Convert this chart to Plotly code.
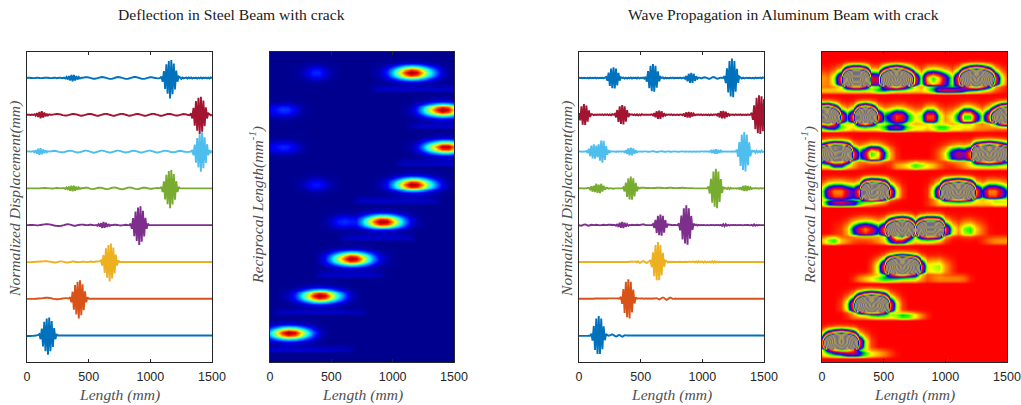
import numpy as np
import plotly.graph_objects as go

W, H = 1021, 405
colors = ["#0072BD", "#A2142F", "#4DBEEE", "#77AC30", "#7E2F8E", "#EDB120", "#D95319", "#0072BD"]
x_ticks = [0, 500, 1000, 1500]

# ---- Deflection waveforms: (start mm, samples every 10 mm), top trace first ----
d1 = [(0, [0,1,1,0,0,-1,-1,0,1,1,0,-1,-1,0,1,1,2,1,0,-1,-1,0,1,1,-1,0,1,1,0,-1]),
      (300, [2,-3,5,-8,11,-14,17,-18,16,-14,11,-8,5,-3,1]),
      (450, [1,2,4,4,4,3,1,-1,-3,-4,-4,-3,-1,1,3,4,5,4,3,1,-1,-3,-5,-5,-4,-2,0,3,4,5,4,3,1,-1,-3,-5,-5,-4,-2,0,2,4,5,5,4,2,0,-2,-4,-5,-5,-3,-1,1,3,4,4,3,1,0,-1,-2,-2]),
      (1090, [8,-20,38,-60,74,-86,92,-112,98,-88,78,-62,40,-20,8]),
      (1240, [4,-5,3,-2,1,2,-3,3,-2,3,-3,1,-1,2,-3,2,-2,3,-3,2,-1,2,-2,2,-3,3,-1,2,-2,0])]
d2 = [(0, [0,1,0,-1,1,-1]),
      (60, [3,-5,9,-12,15,-19,19,-15,12,-9,6,-4,2]),
      (200, [0,1,2,3,4,4,3,2,0,-2,-3,-4,-4,-3,-1,1,3,4,4,3,2,0,-2,-4,-5,-4,-3,-1,1,3,4,5,4,2,0,-2,-4,-5,-5,-3,-1,1,3,5,5,4,2,0,-2,-4,-5,-5,-3,-1,1,3,5,5,4,2,0,-2,-4,-5,-4,-3,-1,1,3,5,4,3,1,-1,-3,-5,-5,-4,-2,0,2,4,5,5,3,1,-1,-3,-5,-5,-4,-2,0,2,4,5,4,3,1,-1,-3,-4,-4,-3,-1,1,3,4,3,2,0,-1,-2,-3,-2,-1,0,1,2,2,1,0,-1,-2,-2,-1,0,2,3,2,0]),
      (1338, [8,-20,38,-60,74,-86,92,-104,98,-92,78,-62,40,-20,8]),
      (1488, [3,-3])]
d3 = [(0, [0,1,1,-1,1,-1]),
      (50, [2,-4,8,-12,16,-18,18,-15,12,-9,6,-4,2]),
      (190, [1,2,3,4,3,2,0,-2,-3,-4,-4,-3,-1,1,3,4,5,4,2,0,-2,-4,-5,-4,-3,-1,1,3,5,5,4,2,0,-2,-4,-6,-5,-3,-1,1,3,5,5,4,2,0,-2,-4,-5,-5,-3,-1,1,3,5,5,4,2,0,-2,-4,-5,-4,-3,-1,1,3,5,4,3,1,-1,-3,-5,-5,-4,-2,0,2,4,5,5,3,1,-1,-3,-5,-5,-4,-2,0,2,4,5,4,3,1,-1,-3,-4,-4,-3,-1,1,3,4,3,2,0,-1,-2,-3,-2,-1,0,1,2,2,1,0,-1,-2,-3,-1,1,3,-2,3,-3,4,-4,3,-4,4,-3]),
      (1346, [8,-20,38,-60,74,-86,94,-110,105,-90,78,-62,40,-20,8])]
d4 = [(0, [0,0,0,0,0,0,0,0,0,0,0,1,1,1,2,2,1,1,0,0,-1,-1,0,1,2,2,1,0,1,1]),
      (300, [2,-3,5,-8,10,-13,15,-16,15,-13,10,-8,5,-3,2]),
      (450, [1,2,3,4,3,1,-1,-3,-4,-3,-2,0,2,3,4,3,2,0,-2,-4,-4,-3,-1,1,3,4,5,4,2,0,-2,-4,-5,-4,-2,0,2,4,5,4,3,1,-1,-3,-4,-4,-2,0,2,3,4,3,2,0,-1,-2,-2,-1,0,1,1,2,1,1,0]),
      (1098, [8,-20,38,-60,74,-86,94,-108,100,-88,78,-62,40,-20,8])]
d5 = [(0, [0,0,1,1,1,1,0,0,-1,-1,0,1,2,3,4,5,5,5,4,3,2,0,-2,-3,-4,-5,-5,-4,-3,-1,0,2,4,5,4,3,1,-1,-3,-3,-2,0,1,2,3,3,2,1,0,0,1,2,2,1,0,-1]),
      (560, [1,-3,5,-8,11,-16,18,-15,13,-10,6,-4,1]),
      (700, [1,2,2,1,0,-1,-2,-1,0,1,2,1,0,-1,-1,0,1,2,1,0,-2,-1]),
      (846, [8,-20,38,-60,74,-86,96,-108,102,-90,78,-62,40,-20,8])]
d6 = [(0, [-1,-1,-1,-1,0,0,0,1,1,1,2,2,2,3,4,4,4,3,2,1,0,-2,-3,-3,-2,0,2,3,3,2,0,-2,-3,-3,-2,-1,1,2,2,1,0,0,-1,-1,0,1,1,0,-1,-1,0,1,2,1,0,1,2,2,3,3]),
      (603, [8,-20,38,-60,74,-86,92,-106,100,-90,78,-62,40,-20,8])]
d7 = [(0, [-1,-1,-1,-1,-1,-1,-1,0,0,1,1,2,2,3,4,5,5,5,4,3,2,0,-1,-2,-3,-3,-2,-1,0,1,2,3,3,2,1,2,1]),
      (352, [8,-20,38,-60,74,-86,92,-108,100,-90,78,-62,40,-20,8])]
d8 = [(0, [-3,-3,-3,-3,-2,-2,-1,0,1,3,2]),
      (108, [8,-20,38,-60,74,-86,92,-104,98,-86,78,-62,40,-20,8])]
deflection_waves = [d1, d2, d3, d4, d5, d6, d7, d8]

# ---- Wave-propagation waveforms ----
w1 = [(0, [1,0,1,-1,1,0,-1,1,-2,2,-1,1,-1,2,-2,1,-1,1,0,1,-1,2,-2,1]),
      (224, [6,-15,29,-43,51,-55,58,-57,51,-41,28,-14,4]),
      (360, [2,-3,2,-3,2,-2,3,-3,2,-1,2,-3,3,-2,1,0,2,-3,2,-1]),
      (548, [7,-20,37,-56,66,-72,76,-75,66,-53,36,-19,6]),
      (680, [3,-3,2,-2,1,-2,2,-1,2,-2,1,0,1,-1,2,-2,1,-1,2,-3,3,-2]),
      (851, [2,-5,11,-18,23,-27,28,-27,23,-16,10,-5,2]),
      (980, [2,-2,0,3,4,2,-1,-4,-4,-1,3,5,3,-1,-4,-3,0,2,1,0]),
      (1180, [10,-28,52,-78,92,-100,106,-104,92,-74,50,-26,8]),
      (1310, [3,-3,2,-2,1,2,-1,1,0,-1,1,-2,2,-1,1,0,2,-2,3])]
w2 = [(0, [9,-30,46,-54,58,-55,50,-37,24,-12,4]),
      (110, [2,-2,1,-1,1,0,1,-1,2,-2,2,-1,2,-2,2,-3,3]),
      (297, [5,-14,26,-39,46,-50,53,-52,46,-37,25,-13,4]),
      (430, [3,-2,2,-3,3,-4,2,-3,3]),
      (594, [2,-4,9,-14,19,-22,23,-22,19,-13,8,-4,1]),
      (730, [2,-1,2,-2,1,-1,0,1,-2,2,-1,1,-2,2,-1,2,-2,3]),
      (837, [1,-3,6,-10,13,-15,16,-15,13,-9,6,-3,1]),
      (970, [1,-1,2,-2,1,-1,1,-2,2,-3,2,-2,1,0,-1,1,-2,1,0,-2]),
      (1113, [2,-4,8,-14,19,-20,21,-20,17,-12,8,-4,1]),
      (1250, [1,-2,2,-1,1,-1,2,-2,1,-1,1,-2,2,-1,1,-1]),
      (1400, [10,-28,52,-78,92,-100,106,-104,100,-90,85])]
w3 = [(0, [0,1,0,-1,1,0,1,-1]),
      (60, [3,-8,15,-25,32,-37,40,-38,32,-30,40,-50,60,-61,58,-45,30,-18,8,-4,2]),
      (290, [1,-2,1,-1,2,-1,1,0,1,-1,1,-2,2]),
      (360, [1,-4,8,-13,17,-20,21,-20,17,-12,8,-4,1]),
      (500, [1,-1,0,1,1,0,-1,-1,0,1,2,1,-1,-2,-1,0,1,2,1,-1,-1,0,1,1,-1,-1,0,1,1,0,-1,-1,0,1,1,0,-1,1,0,-1,1,0,-1,1,0,-1,1,0,-1,1,1,0]),
      (1054, [1,-2,5,-8,10,-12,13,-12,10,-7,5,-2,1]),
      (1190, [1,-1,1,0,-1,1,-1,1,0,-1,1,-1,1,-1,1,0,-2]),
      (1289, [10,-28,52,-78,92,-100,106,-108,92,-74,50,-26,8]),
      (1420, [4,-6,5,-4,3,-4,5,-3])]
w4 = [(0, [0,1,0,1,-1,1,-1,2]),
      (80, [2,-6,11,-18,14,-20,25,-24,20,-26,25,-18,14,-8,3]),
      (230, [2,-2,1,0,-1,-2]),
      (364, [6,-17,31,-47,55,-60,64,-62,55,-44,30,-16,5]),
      (500, [3,3,3,3,2,2,2,2,1,1,2,2,2,3,3,3,3,2,2,1,1,2,2,3,3,3,2,2,1,1,2,2,2,3,3,2,2,1,1,1,1,1,1,0,0,0,0]),
      (1054, [10,-28,52,-78,92,-100,106,-108,92,-74,50,-26,8]),
      (1190, [2,-3,4,-4,3,-2,1,-1,1,-2,1]),
      (1297, [1,-3,6,-10,13,-15,16,-15,13,-9,6,-3,1]),
      (1430, [2,-1,1,-2,2,-1,1])]
w5 = [(0, [0,-2,-3,0,3,4,2,-2,-3,0,2,1,0,1,2,1,0,-1,0,1,2,1,0,1,2,2,1,2,1]),
      (291, [1,-3,6,-10,13,-15,17,-16,13,-9,6,-3,1]),
      (430, [2,1,0,1,2,1,0,2,3,5,3,1]),
      (602, [6,-15,29,-43,51,-55,58,-57,51,-41,28,-14,4]),
      (730, [2,2,1,0,1,1,0,-1,-1,0,1,1]),
      (816, [10,-28,52,-78,92,-100,108,-106,92,-74,50,-26,8]),
      (950, [3,-2,2,-1,1,0,1,0,-1,1,-1,0,1,0,1,-1,1,0,1,-1,2,-4,5,-6,5,-3,2,-2,1,0,1,0,1,-1,1,0,1,0,-1,1,0,1,1,0,-1,2,-3,4,-3,2,-2,1])]
w6 = [(400, [0,1,1,2,1,2,3,-2,3,-4,-3,1,5,2,-3,-5,0,4,2,-3,-1,2]),
      (581, [10,-28,52,-78,92,-100,108,-100,92,-74,50,-26,8]),
      (710, [4,-3,2,-1,1,0,1,0,0,0,1,0,1,0,0,1,0,0,1,1,0,1,2,-2,3,-3,4,-2,1,2,-3,3,-2,1,-1,2,-3,4,-4,3,-2,1,0,1,-1])]
w7 = [(0, [0,0,0,0,0,0,0,0,0,0,0,0,0,1,1,1,1,1,1,1,1,1,1,1,2,2,2,2,2,2,2,2,1,1]),
      (343, [10,-28,52,-78,92,-100,106,-108,92,-74,50,-26,8]),
      (480, [2,2,1,1,1,0,1,1,0,1,1,0,1,1,2,3,0,-4,-1,4,7,4,-1,-6,-2,3,6,3,-1,-1,1,0])]
w8 = [(0, [-2,-2,-2,-2,-2,-2,-2,-2,-1,-1]),
      (102, [10,-28,52,-78,92,-100,106,-100,92,-74,50,-26,8]),
      (235, [2,-1,1,3,6,3,-2,-5,-3,2,3,-3,-6,-3,2,1,0])]
wave_waves = [w1, w2, w3, w4, w5, w6, w7, w8]

# ---- Steel scalogram: magnitude along length per trace, columns every 50 mm ----
length_cols = [0,50,100,150,200,250,300,350,400,450,500,550,600,650,700,750,800,850,900,950,1000,1050,1100,1150,1200,1250,1300,1350,1400,1450,1500]
s1 = [0,0,0,0,.01,.03,.08,.15,.15,.08,.03,.01,0,0,0,0,0,.02,.05,.15,.34,.58,.85,1,.92,.67,.42,.21,.07,.02,0]
s2 = [.1,.13,.17,.16,.09,.03,.01,0,0,0,0,0,0,0,0,0,0,0,0,0,0,0,.02,.05,.15,.34,.58,.85,1,.92,.67]
s3 = [.09,.12,.15,.14,.08,.03,.01,0,0,0,0,0,0,0,0,0,0,0,0,0,0,0,.01,.03,.1,.26,.48,.74,.96,.97,.78]
s4 = [0,0,0,0,.01,.03,.07,.13,.13,.07,.03,.01,0,0,0,0,0,.01,.04,.12,.3,.53,.8,.99,.95,.72,.46,.24,.09,.03,.01]
s5 = [0,0,0,0,0,0,0,0,0,.02,.06,.13,.16,.14,.14,.3,.53,.8,.99,.95,.72,.46,.24,.09,.03,.01,0,0,0,0,0]
s6 = [0,0,0,0,0,0,0,0,.04,.12,.3,.53,.8,.99,.94,.7,.45,.23,.09,.03,.01,0,0,0,0,0,0,0,0,0,0]
s7 = [0,0,.02,.05,.15,.34,.58,.85,1,.92,.67,.42,.21,.07,.02,0,0,0,0,0,0,0,0,0,0,0,0,0,0,0,0]
s8 = [.34,.58,.85,1,.92,.67,.42,.21,.07,.02,0,0,0,0,0,0,0,0,0,0,0,0,0,0,0,0,0,0,0,0,0]
steel_main = [s1, s2, s3, s4, s5, s6, s7, s8]
# across-band falloff (13 rows per band) and faint streak under each band
steel_across = [0, .01, .03, .12, .42, .82, 1, .84, .42, .12, .03, .01, 0]
t1 = [0,0,0,0,0,0,0,0,0,0,0,0,0,0,0,0,0,.04,.06,.06,.06,.06,.06,.06,.06,.06,.06,.06,.06,.06,.06]
t2 = [0,0,0,0,0,0,0,0,0,0,0,0,0,0,0,0,0,0,0,0,0,0,0,.04,.06,.06,.06,.06,.06,.06,.06]
t3 = [0,0,0,0,0,0,0,0,0,0,0,0,0,0,0,0,0,0,0,0,0,.04,.06,.06,.06,.06,.06,.06,.06,.06,.06]
t4 = [0,0,0,0,0,0,0,0,0,0,0,0,0,0,.04,.06,.06,.06,.06,.06,.06,.06,.06,.06,.06,.06,.05,.04,0,0,0]
t5 = [0,0,0,0,0,0,0,0,0,0,0,0,.04,.06,.06,.06,.06,.06,.06,.06,.06,.06,.05,.04,0,0,0,0,0,0,0]
t6 = [0,0,0,0,0,0,0,0,.04,.06,.06,.06,.06,.06,.06,.06,.06,.05,.04,0,0,0,0,0,0,0,0,0,0,0,0]
t7 = [0,.04,.06,.06,.06,.06,.06,.06,.06,.06,.06,.06,.06,.05,.05,.04,0,0,0,0,0,0,0,0,0,0,0,0,0,0,0]
t8 = [.06,.07,.07,.07,.07,.07,.07,.07,.07,.06,.06,.05,.05,.04,0,0,0,0,0,0,0,0,0,0,0,0,0,0,0,0,0]
steel_streak = [t1, t2, t3, t4, t5, t6, t7, t8]
steel_streak_across = [0, 0, 0, 0, 0, 0, 0, 0, 0, 0, .2, .6, 1]

# ---- Aluminium scalogram, high magnitude (levels), columns every 50 mm ----
m1 = [1.2,1,2.5,7,28,38,38,28,6,5.5,20,34,42,34,20,6.5,2.5,7.5,9,7.5,5,2.5,7,22,36,42,36,22,7,2.5,.6]
m2 = [38,42,28,7,3.5,7,30,40,30,7,3.5,4.5,6.5,6,3.5,2,2.5,6.5,6.5,2.5,1.2,2,4,9,9,5,2.5,7,18,36,42]
m3 = [20,32,40,38,28,7,3.5,5.5,9,8,4,1.5,.3,0,0,0,0,0,.2,.8,2,4.5,5.5,5,7,28,36,42,36,28,18]
m4 = [2.5,5.5,7,7,5.5,4.5,7,30,40,36,26,7,2.5,.5,0,0,0,.3,2.5,7,26,36,42,36,26,7,4,7,7,5.5,3.5]
m5 = [0,0,.2,.5,1.5,4,6,7,6,4,7,22,34,40,32,9,28,38,38,32,7,2.5,1.2,2.6,3,1.6,.8,.1,0,0,0]
m6 = [0,0,0,0,0,0,0,0,.5,2.5,7,24,36,42,36,26,7,2,2.2,2.4,1.2,.4,0,0,0,0,0,0,0,0,0]
m7 = [0,0,0,.5,2.5,7,24,36,42,36,26,7,2.5,.5,0,0,0,0,0,0,0,0,0,0,0,0,0,0,0,0,0]
m8 = [7,24,36,42,36,26,7,2.5,.5,0,0,0,0,0,0,0,0,0,0,0,0,0,0,0,0,0,0,0,0,0,0]
alu_main = [m1, m2, m3, m4, m5, m6, m7, m8]
alu_across = [0, .005, .03, .11, .24, .48, .78, 1, .98, .88, .18, .05, .01]
l1 = [1.5,1.5,1.5,1.5,1.5,1.5,1.5,1.5,2,3,3,2,1.5,1.5,1.5,1.5,1.5,2,3,5,5.5,5.5,5,3.5,2.5,2,1.5,1,.5,.3,.1]
l2 = [2,3,3.5,2.5,2,1.5,1.5,1.5,1.5,2,3,4.5,5,4,2.5,2,2,1.5,2,3,3,2,2,1.5,1.5,1,1,.8,.5,.3,.2]
l3 = [1.5,1.5,3,3,1.5,1,.5,.2,0,0,0,.3,1.2,1.5,2,3,2.5,2,1.5,.8,.3,.2,.5,1,1.5,1.5,1.5,1.5,1.5,1.5,1.5]
l4 = [2,4,5,5.5,5,4.5,3,1.5,1,.5,.3,0,0,0,0,0,0,.3,.8,1.5,1.5,1.5,1.5,1.5,1.5,1.5,1.5,1.5,2,2,2]
l5 = [1.5,2.5,3,1.5,1,.5,.3,.3,.5,1,1.5,3.5,5,4.5,2.5,1.5,1.5,1.5,1.2,.8,.3,0,0,0,0,0,.3,.8,1.1,1.2,1.2]
l6 = [0,0,0,0,0,.3,1,1.5,2,2.5,3,2.5,2,1.5,1.5,1.5,1,.5,.8,1,1,1,1,.8,.2,0,0,0,0,0,0]
l7 = [0,0,0,0,.3,.8,1,1,1.5,2,2,2,2.5,3.2,3,2,1,.3,0,0,0,0,0,0,0,0,0,0,0,0,0]
l8 = [1.5,2,2.5,3,4,4.5,4,3,2,1.5,1,.5,.1,0,0,0,0,0,0,0,0,0,0,0,0,0,0,0,0,0,0]
alu_low = [l1, l2, l3, l4, l5, l6, l7, l8]
alu_low_across = [0, 0, 0, 0, 0, 0, 0, 0, 0, .05, .5, 1, .9]

jet = [[0, "rgb(0,0,143)"], [.11, "rgb(0,0,255)"], [.365, "rgb(0,255,255)"],
       [.625, "rgb(255,255,0)"], [.875, "rgb(255,0,0)"], [1, "rgb(128,0,0)"]]
rainbow_levels = ["#ff0000", "#ff8000", "#ffff00", "#00ff00", "#0000ff", "#7a00b0",
                  "#ff0000", "#ff8000", "#ffff00", "#00ff00", "#0000ff", "#7a00b0"]
ring_levels = ["#b5a050", "#6a6a90"]


def wave_samples(segments):
    y = np.zeros(151)
    for start, vals in segments:
        i = start // 10
        y[i:i + len(vals)] = vals[:151 - i]
    return y


def stack(main, across, low, low_across, before, after):
    rows = [np.zeros(31)] * before
    for a, b in zip(main, low):
        for g, g2 in zip(across, low_across):
            rows.append(np.array(a) * g + np.array(b) * g2)
    rows += [np.zeros(31)] * after
    return np.array(rows)


fig = go.Figure()
frames = [(27, 212), (270, 454), (579, 764), (822, 1007)]
top, bot = 51.5, 362
names = ["", "2", "3", "4"]
xs = np.arange(151) * 10
for col, waves in ((0, deflection_waves), (2, wave_waves)):
    for i, segs in enumerate(waves):
        fig.add_trace(go.Scatter(x=xs, y=(7 - i) + wave_samples(segs) / 200, mode="lines",
                                 line=dict(color=colors[i], width=1.9, simplify=False),
                                 xaxis="x" + names[col], yaxis="y" + names[col],
                                 showlegend=False, hoverinfo="skip"))

z_steel = stack(steel_main, steel_across, steel_streak, steel_streak_across, 2, 4)
fig.add_trace(go.Heatmap(z=z_steel, x=length_cols, y=np.arange(z_steel.shape[0]), zmin=0, zmax=1,
                         colorscale=jet, showscale=False, zsmooth="best",
                         xaxis="x2", yaxis="y2", hoverinfo="skip"))

z_alu = stack(alu_main, alu_across, alu_low, alu_low_across, 2, 2)
zmax = 44.0
scale = []
for k, c in enumerate(rainbow_levels):
    scale.append([k / zmax, c])
n = len(rainbow_levels)
k = n
while k <= zmax:
    scale.append([k / zmax, ring_levels[((k - n) // 2) % 2]])
    k += 2
scale[-1][0] = 1
fig.add_trace(go.Heatmap(z=z_alu, x=length_cols, y=np.arange(z_alu.shape[0]), zmin=0, zmax=zmax,
                         colorscale=scale, showscale=False, zsmooth="best",
                         xaxis="x4", yaxis="y4", hoverinfo="skip"))

line_col = "#262626"
yranges = [[-0.72, 7.72], [109.15, 0.65], [-0.72, 7.72], [107.27, 0.03]]
layout = dict(width=W, height=H, margin=dict(l=0, r=0, t=0, b=0, autoexpand=False), paper_bgcolor="white",
              plot_bgcolor="white", showlegend=False)
for (x0, x1), nm, yr in zip(frames, names, yranges):
    layout["xaxis" + nm] = dict(domain=[x0 / W, x1 / W], range=[0, 1500], anchor="y" + nm,
                                tickvals=x_ticks, ticks="inside", ticklen=3, tickwidth=1,
                                tickcolor=line_col, mirror="ticks", showline=True, linecolor=line_col,
                                linewidth=1, showgrid=False, zeroline=False, layer="above traces",
                                automargin=False, ticklabelstandoff=3,
                                tickfont=dict(family="Liberation Sans", size=12.5, color=line_col))
    layout["yaxis" + nm] = dict(domain=[(H - bot) / H, (H - top) / H], range=yr, anchor="x" + nm,
                                showticklabels=False, ticks="", tickvals=[], mirror=True, showline=True,
                                linecolor=line_col, linewidth=1, showgrid=False, zeroline=False,
                                layer="above traces", automargin=False)
fig.update_layout(**layout)

serif_i = dict(family="Liberation Serif", size=15.6, color="#505050", style="italic")
serif = dict(family="Liberation Serif", size=15.6, color="#1a1a1a")


def note(text, px, py, font, angle=0):
    fig.add_annotation(text=text, x=px / W, y=1 - py / H, xref="paper", yref="paper",
                       showarrow=False, font=font, textangle=angle, xanchor="center", yanchor="middle")


note("Deflection in Steel Beam with crack", 231, 15, serif)
note("Wave Propagation in Aluminum Beam with crack", 783, 15, serif)
for (x0, x1) in frames:
    note("Length (mm)", (x0 + x1) / 2, 395, serif_i)
note("Normalized Displacement(mm)", 15, 199, serif_i, -90)
note("Reciprocal Length(mm<sup>-1</sup>)", 256, 205, serif_i, -90)
note("Normalized Displacement(mm)", 567, 199, serif_i, -90)
note("Reciprocal Length(mm<sup>-1</sup>)", 808, 205, serif_i, -90)

fig.write_html("out.html", config={"displayModeBar": False},
               post_script="document.body.style.margin='0';")
